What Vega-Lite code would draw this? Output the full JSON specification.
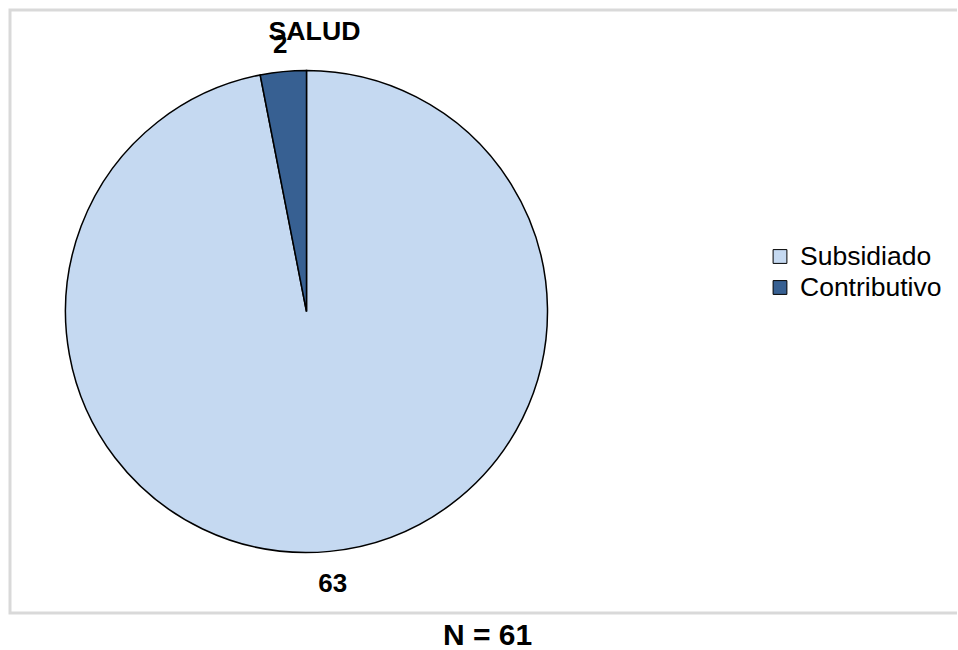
{
  "$schema": "https://vega.github.io/schema/vega-lite/v6.json",
  "data": {"values": [
    {"tipo": "Subsidiado", "n": 63},
    {"tipo": "Contributivo", "n": 2}
  ]},
  "padding": {"left": 8, "top": 8, "right": 0, "bottom": 0},
  "background": "white",
  "spacing": 0,
  "bounds": "flush",
  "title": {
    "text": "N = 61",
    "orient": "bottom",
    "anchor": "middle",
    "dx": 4,
    "offset": 6,
    "font": "Liberation Sans",
    "fontSize": 30,
    "fontWeight": "bold",
    "color": "black"
  },
  "hconcat": [
    {
      "width": 593,
      "height": 603,
      "view": {"stroke": "#d9d9d9", "strokeWidth": 3, "strokeDash": [593, 603, 1196]},
      "layer": [
        {
          "mark": {"type": "arc", "outerRadius": 241, "stroke": "black", "strokeWidth": 1.5},
          "encoding": {
            "theta": {"field": "n", "type": "quantitative", "stack": true},
            "order": {"field": "n", "type": "quantitative", "sort": "descending"},
            "color": {
              "field": "tipo",
              "type": "nominal",
              "scale": {"domain": ["Subsidiado", "Contributivo"], "range": ["#c5d9f1", "#376092"]},
              "legend": null
            }
          }
        },
        {
          "mark": {"type": "text", "radius": 271, "dy": 3, "font": "Liberation Sans", "fontSize": 26, "fontWeight": "bold", "color": "black", "baseline": "middle", "align": "center"},
          "encoding": {
            "theta": {"field": "n", "type": "quantitative", "stack": true},
            "order": {"field": "n", "type": "quantitative", "sort": "descending"},
            "text": {"field": "n", "type": "quantitative"}
          }
        },
        {
          "data": {"values": [{"titulo": "SALUD"}]},
          "mark": {"type": "text", "dx": 8, "dy": -272, "baseline": "alphabetic", "align": "center", "font": "Liberation Sans", "fontSize": 26.67, "fontWeight": "bold", "color": "black"},
          "encoding": {
            "text": {"field": "titulo", "type": "nominal"}
          }
        }
      ]
    },
    {
      "width": 354,
      "height": 603,
      "view": {"stroke": "#d9d9d9", "strokeWidth": 3, "strokeDash": [354, 603, 354, 603]},
      "encoding": {
        "y": {
          "field": "tipo",
          "type": "nominal",
          "scale": {"type": "point", "domain": ["Subsidiado", "Contributivo"], "range": [246.5, 277.5], "padding": 0},
          "axis": null
        }
      },
      "layer": [
        {
          "mark": {"type": "point", "shape": "square", "size": 190, "filled": true, "opacity": 1, "stroke": "black", "strokeWidth": 1},
          "encoding": {
            "fill": {
              "field": "tipo",
              "type": "nominal",
              "scale": {"domain": ["Subsidiado", "Contributivo"], "range": ["#c5d9f1", "#376092"]},
              "legend": null
            }
          }
        },
        {
          "mark": {"type": "text", "align": "left", "baseline": "middle", "dx": 20, "font": "Liberation Sans", "fontSize": 26.5, "color": "black"},
          "encoding": {
            "text": {"field": "tipo", "type": "nominal"}
          }
        }
      ]
    }
  ],
  "resolve": {"scale": {"color": "independent", "fill": "independent", "theta": "independent"}},
  "config": {"font": "Liberation Sans"}
}
